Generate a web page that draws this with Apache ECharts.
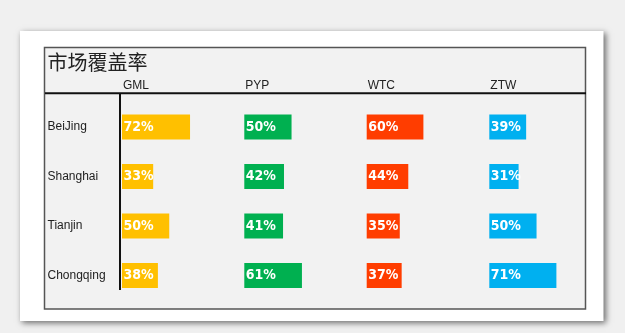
<!DOCTYPE html>
<html>
<head>
<meta charset="utf-8">
<script src="https://cdn.jsdelivr.net/npm/echarts@6/dist/echarts.min.js"></script>
<style>
  html, body { margin: 0; padding: 0; background: #f0f0f0; }
  #chart { width: 625px; height: 333px; }
</style>
</head>
<body>
<div id="chart"></div>
<script>
// Market coverage by city and brand
const titleText = '市场覆盖率';
const regions = ['BeiJing', 'Shanghai', 'Tianjin', 'Chongqing'];
const brands = ['GML', 'PYP', 'WTC', 'ZTW'];
const gml = [72, 33, 50, 38];
const pyp = [50, 42, 41, 61];
const wtc = [60, 44, 35, 37];
const ztw = [39, 31, 50, 71];
const brandColors = ['#FFC000', '#00B050', '#FF3D00', '#00B0F0'];

const values = [gml, pyp, wtc, ztw];

// Panel geometry
const colLeft = [122, 244.3, 366.7, 489.3];
const colWidth = 94.5;
const gridTop = 102.25;
const gridHeight = 198;

const chart = echarts.init(document.getElementById('chart'));

const grids = [], xAxes = [], yAxes = [], series = [], titles = [];

titles.push({
  text: titleText, left: 47.5, top: 52, padding: 0,
  textStyle: { fontFamily: 'Noto Sans CJK SC', fontSize: 20, fontWeight: 'normal', color: '#222' }
});

brands.forEach((b, i) => {
  grids.push({ left: colLeft[i], top: gridTop, width: colWidth, height: gridHeight });
  xAxes.push({ type: 'value', gridIndex: i, min: 0, max: 100, show: false });
  yAxes.push({
    type: 'category', gridIndex: i, data: regions, inverse: true,
    axisLine: { show: false }, axisTick: { show: false }, splitLine: { show: false },
    axisLabel: i === 0 ? {
      show: true, align: 'left', margin: 74.5,
      fontFamily: 'Liberation Sans, Arial, sans-serif', fontSize: 12, color: '#222'
    } : { show: false }
  });
  series.push({
    type: 'bar', name: b, xAxisIndex: i, yAxisIndex: i,
    data: values[i], barWidth: 25,
    itemStyle: { color: brandColors[i] },
    label: {
      show: true, position: 'insideLeft', distance: 1.5,
      formatter: '{c}%', color: '#fff', fontWeight: 'bold',
      fontFamily: "'DejaVu Sans Condensed', 'Liberation Sans Narrow', 'Liberation Sans', sans-serif", fontSize: 14
    },
    silent: true
  });
  titles.push({
    text: b, left: colLeft[i] + 1, top: 79.5, padding: 0,
    textStyle: { fontFamily: 'Liberation Sans, Arial, sans-serif', fontSize: 12, fontWeight: 'normal', color: '#222' }
  });
});

chart.setOption({
  animation: false,
  backgroundColor: '#f0f0f0',
  title: titles,
  grid: grids,
  xAxis: xAxes,
  yAxis: yAxes,
  series: series,
  graphic: [
    {
      type: 'rect', z: -10,
      shape: { x: 20, y: 31, width: 583.5, height: 290 },
      style: { fill: '#ffffff', shadowBlur: 6, shadowOffsetX: 2, shadowOffsetY: 2, shadowColor: 'rgba(0,0,0,0.55)' }
    },
    {
      type: 'rect', z: -9,
      shape: { x: 44.5, y: 47.5, width: 541, height: 261.5 },
      style: { fill: '#f2f2f2', stroke: '#555', lineWidth: 1.5 }
    },
    {
      type: 'line', z: -8,
      shape: { x1: 45, y1: 93.3, x2: 586, y2: 93.3 },
      style: { stroke: '#111', lineWidth: 2 }
    },
    {
      type: 'line', z: -8,
      shape: { x1: 120, y1: 93, x2: 120, y2: 290 },
      style: { stroke: '#111', lineWidth: 2 }
    }
  ]
});
</script>
</body>
</html>
